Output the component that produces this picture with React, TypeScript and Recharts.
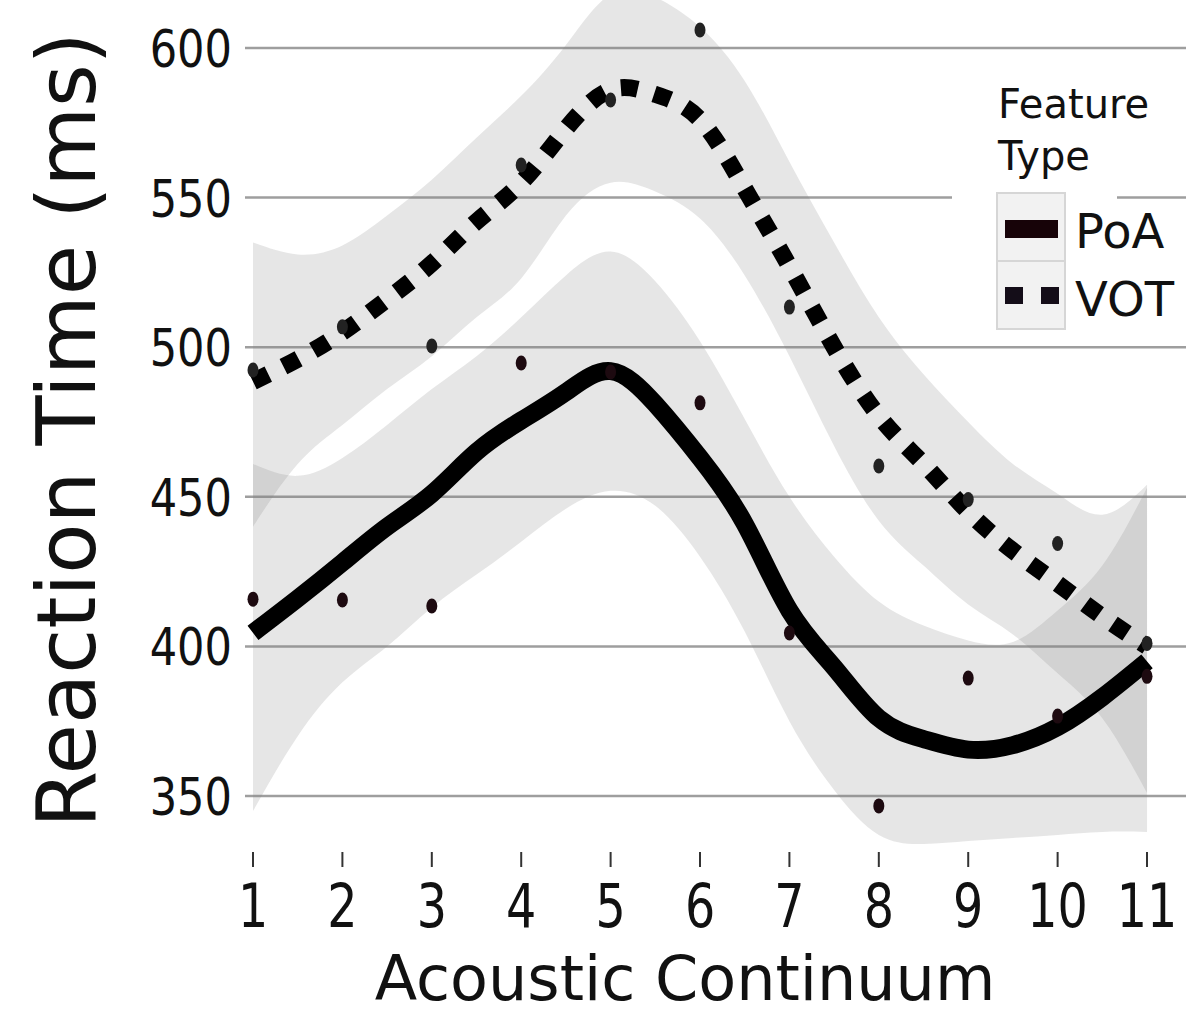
import React from 'react';
import { ComposedChart, Area, Line, Scatter, XAxis, YAxis, CartesianGrid, Legend, Label } from 'recharts';

const fitX = [1, 1.5, 2, 2.5, 3, 3.5, 4, 4.5, 5, 5.5, 6, 6.5, 7, 7.5, 8, 8.5, 9, 9.5, 10, 10.5, 11];
const poaFit = [404.5, 416, 428, 440, 451, 465, 475.5, 485, 492, 481, 463, 441, 412, 393, 376, 369, 365.5, 367, 373, 383, 395];
const votFit = [488.5, 496, 505, 516, 528, 542, 555, 573, 586, 584.5, 576, 553, 527, 500, 477, 461, 445, 432, 421, 410, 400];
const poaLow = [345, 370, 388, 400, 413, 424, 435, 446, 452, 447, 430, 405, 375, 352, 337, 334, 335, 336, 337, 338, 338];
const poaHigh = [461, 457, 463, 474, 486, 497, 510, 524, 532, 522, 502, 476, 450, 430, 415, 407, 402, 401.5, 412, 427, 453];
const votLow = [440, 461, 474, 486, 497, 510, 523, 544, 555, 552, 543, 524, 497, 467, 442, 427, 414, 404, 391, 376, 351];
const votHigh = [535, 531, 534, 544, 556, 570, 584, 601, 618, 617, 607, 589, 562, 535, 510, 491, 475, 461, 451, 444, 454];

// raw means per step
const stepX = [1, 2, 3, 4, 5, 6, 7, 8, 9, 10, 11];
const poaPoints = [415.8, 415.5, 413.5, 494.7, 491.7, 481.4, 404.5, 346.7, 389.4, 376.7, 390];
const votPoints = [492.4, 506.8, 500.4, 560.9, 582.6, 606, 513.4, 460.3, 449.1, 434.4, 401];

const xTicks = [1, 2, 3, 4, 5, 6, 7, 8, 9, 10, 11];
const yTicks = [350, 400, 450, 500, 550, 600];

const fitData = fitX.map((x, i) => ({
  x,
  poa: poaFit[i],
  vot: votFit[i],
  poaBand: [poaLow[i], poaHigh[i]],
  votBand: [votLow[i], votHigh[i]],
}));
const poaData = stepX.map((x, i) => ({ x, y: poaPoints[i] }));
const votData = stepX.map((x, i) => ({ x, y: votPoints[i] }));

const font = 'DejaVu Sans, Verdana, sans-serif';

const XTick = (props: any) => {
  const { x, y, payload } = props;
  return (
    <g>
      <line x1={x} x2={x} y1={y + 8} y2={y + 23} stroke="#333" strokeWidth={2} />
      <text transform={`translate(${x},${y + 83}) scale(0.78,1)`} textAnchor="middle" fontSize={61} fontFamily={font} fill="#111">
        {payload.value}
      </text>
    </g>
  );
};

const YTick = (props: any) => {
  const { x, y, payload } = props;
  return (
    <text transform={`translate(${x - 13},${y + 19}) scale(0.83,1)`} textAnchor="end" fontSize={52} fontFamily={font} fill="#111">
      {payload.value}
    </text>
  );
};

// only the tick rows, not the frame edges
const GridRow = (props: any) => {
  const { x1, x2, y1, y2 } = props;
  if (y1 < 2 || y1 > 840) return <g />;
  return <line x1={x1} x2={x2} y1={y1} y2={y2} stroke="#9e9e9e" strokeWidth={2.5} />;
};

const Dot = (color: string) => (props: any) => (
  <ellipse cx={props.cx} cy={props.cy} rx={5.5} ry={7.5} fill={color} />
);

const LegendBox = () => (
  <svg width={251} height={280} style={{ display: 'block' }}>
    <rect x={0} y={0} width={165} height={275} fill="#fff" />
    <text x={46} y={58} fontSize={40} fontFamily={font} fill="#111">Feature</text>
    <text x={46} y={110} fontSize={40} fontFamily={font} fill="#111">Type</text>
    <rect x={45} y={133} width={68} height={68} fill="#f2f2f2" stroke="#d6d6d6" strokeWidth={2} />
    <rect x={45} y={201} width={68} height={68} fill="#f2f2f2" stroke="#d6d6d6" strokeWidth={2} />
    <rect x={53} y={160} width={53} height={18} fill="#170308" />
    <rect x={53} y={227} width={18} height={17} fill="#140d18" />
    <rect x={89} y={227} width={18} height={17} fill="#140d18" />
    <text x={123} y={188} fontSize={48} fontFamily={font} fill="#111">PoA</text>
    <text x={123} y={256} fontSize={48} fontFamily={font} fill="#111">VOT</text>
  </svg>
);

const App: React.FC = () => {
  return (
    <div style={{ position: 'absolute', left: 0, top: 0, width: 1203, height: 1015, background: '#fff' }}>
      <ComposedChart
        width={1203}
        height={1015}
        data={fitData}
        margin={{ top: 0, right: 17, bottom: 71, left: 145 }}
      >
        <CartesianGrid vertical={false} horizontal={<GridRow />} />
        <XAxis
          dataKey="x"
          type="number"
          domain={[0.9105, 11.436]}
          ticks={xTicks}
          allowDataOverflow
          axisLine={false}
          tickLine={false}
          tickSize={0}
          tickMargin={0}
          height={100}
          tick={<XTick />}
          interval={0}
        >
          <Label
            content={() => (
              <text x={685} y={1000} textAnchor="middle" fontSize={62} fontFamily={font} fill="#111">
                Acoustic Continuum
              </text>
            )}
          />
        </XAxis>
        <YAxis
          type="number"
          domain={[333.96, 616.04]}
          ticks={yTicks}
          allowDataOverflow
          axisLine={false}
          tickLine={false}
          tickSize={0}
          tickMargin={0}
          width={100}
          tick={<YTick />}
          interval={0}
        >
          <Label
            content={() => (
              <text transform="translate(95,430) rotate(-90)" textAnchor="middle" fontSize={82} fontFamily={font} fill="#111">
                Reaction Time (ms)
              </text>
            )}
          />
        </YAxis>
        <Area type="natural" dataKey="poaBand" stroke="none" fill="#808080" fillOpacity={0.2} isAnimationActive={false} legendType="none" />
        <Area type="natural" dataKey="votBand" stroke="none" fill="#808080" fillOpacity={0.2} isAnimationActive={false} legendType="none" />
        <Scatter data={poaData} dataKey="y" shape={Dot('#1d0a10')} isAnimationActive={false} legendType="none" />
        <Scatter data={votData} dataKey="y" shape={Dot('#222222')} isAnimationActive={false} legendType="none" />
        <Line type="natural" dataKey="poa" stroke="#000" strokeWidth={18} dot={false} activeDot={false} isAnimationActive={false} name="PoA" />
        <Line type="natural" dataKey="vot" stroke="#000" strokeWidth={17} strokeDasharray="17 17" dot={false} activeDot={false} isAnimationActive={false} name="VOT" />
        <Legend
          layout="horizontal"
          verticalAlign="middle"
          align="center"
          content={<LegendBox />}
          wrapperStyle={{ position: 'absolute', left: 952, top: 60, width: 251, height: 280 }}
        />
      </ComposedChart>
    </div>
  );
};

export default App;
